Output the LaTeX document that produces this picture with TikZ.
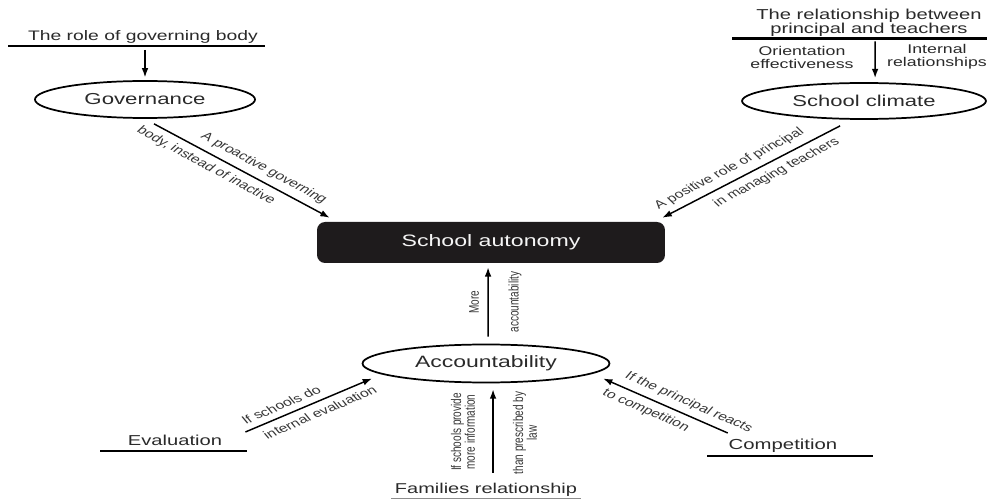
\documentclass[tikz,border=0pt]{standalone}
\usepackage{fontspec}
\setmainfont{Liberation Sans}
\usetikzlibrary{arrows.meta,shapes.geometric}
\definecolor{ink}{HTML}{2A2A2A}
\definecolor{labink}{HTML}{363636}
\definecolor{boxfill}{HTML}{1E1B1C}
\begin{document}
\begin{tikzpicture}[x=0.535714pt, y=-0.75pt, xscale=1.4, transform shape,
  every node/.style={text=ink, inner sep=0pt},
  oval/.style={ellipse, draw=black, line width=1.3pt, inner sep=0pt},
  uline/.style={fill=black, minimum height=1.6pt, inner sep=0pt},
  arr/.style={-{Latex[length=7pt,width=5pt]}, line width=1.1pt, draw=black},
  slab/.style={text=labink, inner sep=4pt, font=\fontsize{8.5}{10}\selectfont},
  vlab/.style={text=labink, rotate=90, align=center, font=\fontsize{7.5}{7.4}\selectfont}
]
\useasboundingbox (0,0) rectangle (987,499);

% top left
\node[font=\fontsize{10.35}{12}\selectfont] (roleT) at (143,37) {The role of governing body};
\node[uline, minimum width=137.7pt] (roleL) at (136.5,46) {};
\node[oval, minimum width=117.9pt, minimum height=27.75pt, font=\fontsize{11.9}{14}\selectfont] (gov) at (145,99.5) {Governance};

% top right
\node[font=\fontsize{10.8}{10.5}\selectfont, align=center] (relT) at (869,23) {The relationship between\\principal and teachers};
\node[uline, minimum width=136.6pt] (relL) at (859.5,38.5) {};
\node[font=\fontsize{9.5}{9.75}\selectfont, align=center] (orT) at (802,57) {Orientation\\effectiveness};
\node[font=\fontsize{9.5}{9.75}\selectfont, align=center] (inT) at (937,57) {Internal\\relationships};
\node[oval, minimum width=130.7pt, minimum height=27pt, font=\fontsize{11.8}{14}\selectfont] (clim) at (864,101) {School climate};

% centre
\node[rounded corners=6pt, fill=boxfill, minimum width=186.4pt, minimum height=30.75pt,
      text=white!92!gray, font=\fontsize{12.4}{14}\selectfont] (auto) at (491,242.5) {School autonomy};
\node[oval, minimum width=132.3pt, minimum height=28.5pt, font=\fontsize{12.3}{14}\selectfont] (acc) at (486,363.5) {Accountability};

% bottom
\node[font=\fontsize{10.8}{12}\selectfont] (evalT) at (175,440) {Evaluation};
\node[uline, minimum width=78.75pt] (evalL) at (173.5,451) {};
\node[font=\fontsize{10.9}{12}\selectfont] (compT) at (783,446) {Competition};
\node[uline, minimum width=88.9pt] (compL) at (790,456) {};
\node[font=\fontsize{10.7}{12}\selectfont] (famT) at (486,490) {Families relationship};
\node[fill=black!45, minimum height=1pt, minimum width=101.8pt] (famL) at (486,498.5) {};

% connectors
\draw[arr, shorten <=2pt, shorten >=2pt] (roleL.south -| gov.north) -- (gov.north);
\draw[arr] ([shift={(15.5,3)}]relL.center) -- ([shift={(11,-4)}]clim.north);

\draw[arr] ([shift={(9,5)}]gov.south)
  -- node[slab, pos=0.57, above, rotate=-37.1] {A proactive governing}
     node[slab, pos=0.35, below, rotate=-37.1] {body, instead of inactive}
  ([shift={(13,-4)}]auto.north west);

\draw[arr] ([shift={(-24,6)}]clim.south)
  -- node[slab, pos=0.57, above, rotate=36.2] {A positive role of principal}
     node[slab, pos=0.41, below, rotate=36.2] {in managing teachers}
  ([shift={(-3,-4)}]auto.north east);

\draw[arr] ([shift={(2,-7)}]acc.north) -- ([shift={(-3,4)}]auto.south);
\node[vlab] (lMore) at (474,302) {More};
\node[vlab] (lAcc) at (515,302) {accountability};

\draw[arr] ([shift={(7,-17)}]famT.center) -- ([shift={(7,6)}]acc.south);
\node[vlab] (lIf) at (463,432) {If schools provide\\more information};
\node[vlab] (lThan) at (525,433) {than prescribed by\\law};

\draw[arr] ([shift={(-2,-19)}]evalL.east)
  -- node[slab, pos=0.34, above, rotate=30.8] {If schools do}
     node[slab, pos=0.53, below, rotate=30.8] {internal evaluation}
  ([shift={(-114,15)}]acc.center);

\draw[arr] ([shift={(21,-23)}]compL.west)
  -- node[slab, pos=0.38, above, rotate=-31.6] {If the principal reacts}
     node[slab, pos=0.59, below, rotate=-31.6] {to competition}
  ([shift={(117,15)}]acc.center);
\end{tikzpicture}
\end{document}
